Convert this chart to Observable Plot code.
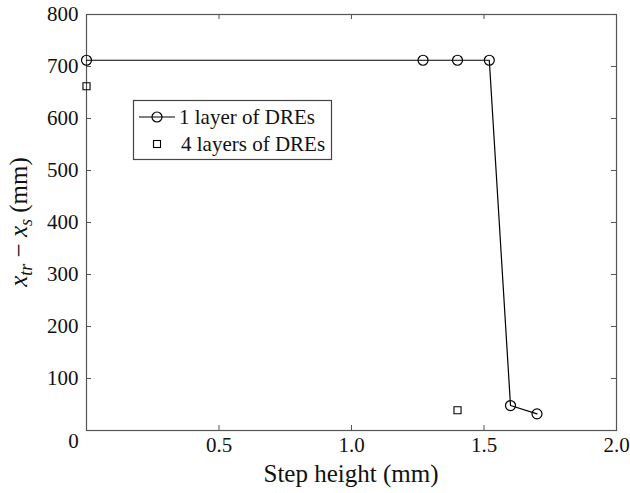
<!DOCTYPE html>
<html>
<head>
<meta charset="utf-8">
<script src="https://cdn.jsdelivr.net/npm/d3@7"></script>
<script src="https://cdn.jsdelivr.net/npm/@observablehq/plot@0.6"></script>
<style>
  body { margin: 0; background: #fff; }
  #chart svg, #chart svg text { font-family: "Liberation Serif", "Times New Roman", "DejaVu Serif", serif; }
</style>
</head>
<body>
<div id="chart"></div>
<script>
// Transition distance vs. step height, for one and four layers of DREs
const stepHeight1 = [0.0, 1.27, 1.40, 1.52, 1.60, 1.70];
const distance1   = [712, 712, 712, 712, 48, 32];
const stepHeight4 = [0.0, 1.40];
const distance4   = [662, 39];

const xTicks = [0, 0.5, 1.0, 1.5, 2.0];
const yTicks = [100, 200, 300, 400, 500, 600, 700, 800];

const series1 = stepHeight1.map((x, i) => ({x, y: distance1[i]}));
const series4 = stepHeight4.map((x, i) => ({x, y: distance4[i]}));

const W = 630, H = 493;
const M = {left: 86, right: 14, top: 14, bottom: 63};
const tickLen = 5;
const innerW = W - M.left - M.right;
const innerH = H - M.top - M.bottom;

const axisColor = "#555";
const font = '"Liberation Serif", "Times New Roman", "DejaVu Serif", serif';
const fmtX = d => d === 0 ? "0" : d3.format(".1f")(d);

const plot = Plot.plot({
  width: W,
  height: H,
  marginLeft: M.left,
  marginRight: M.right,
  marginTop: M.top,
  marginBottom: M.bottom,
  style: {fontFamily: font, background: "#fff"},
  x: {domain: [0, 2]},
  y: {domain: [0, 800]},
  marks: [
    Plot.frame({stroke: axisColor, strokeWidth: 1.2}),
    // inward ticks on all four sides
    Plot.tickX(xTicks, {x: d => d, insetTop: innerH - tickLen, stroke: axisColor}),
    Plot.tickX(xTicks, {x: d => d, insetBottom: innerH - tickLen, stroke: axisColor}),
    Plot.tickY(yTicks, {y: d => d, insetRight: innerW - tickLen, stroke: axisColor}),
    Plot.tickY(yTicks, {y: d => d, insetLeft: innerW - tickLen, stroke: axisColor}),
    // tick labels
    Plot.axisX(xTicks.filter(d => d !== 0), {anchor: "bottom", tickSize: 0, tickPadding: 7, tickFormat: fmtX, fontSize: 21, fill: "#111", label: null}),
    Plot.text([0], {x: d => d, frameAnchor: "bottom", dy: 17, dx: -13, text: d => fmtX(d), fontSize: 21, fill: "#111"}),
    Plot.axisY(yTicks, {anchor: "left", tickSize: 0, tickPadding: 8, fontSize: 21, fill: "#111", label: null}),
    // data
    Plot.line(series1, {x: "x", y: "y", stroke: "#000", strokeWidth: 1.2}),
    Plot.dot(series1, {x: "x", y: "y", r: 5, stroke: "#000", strokeWidth: 1.2, fill: "none"}),
    Plot.dot(series4, {x: "x", y: "y", r: 4, symbol: "square", stroke: "#000", strokeWidth: 1.1, fill: "none"})
  ]
});

const svg = d3.select(plot);

// x axis title
svg.append("text")
  .attr("x", M.left + innerW / 2).attr("y", 482)
  .attr("text-anchor", "middle")
  .style("font-family", font).attr("font-size", 25).attr("fill", "#111")
  .text("Step height (mm)");

// y axis title with subscripts
const yl = svg.append("text")
  .attr("transform", `translate(27,${M.top + innerH / 2}) rotate(-90)`)
  .attr("text-anchor", "middle")
  .style("font-family", font).attr("font-size", 25).attr("fill", "#111");
yl.append("tspan").attr("font-style", "italic").text("x");
yl.append("tspan").attr("font-style", "italic").attr("font-size", 18).attr("dy", 5).text("tr");
yl.append("tspan").attr("dy", -5).text(" \u2212 ");
yl.append("tspan").attr("font-style", "italic").text("x");
yl.append("tspan").attr("font-style", "italic").attr("font-size", 18).attr("dy", 5).text("s");
yl.append("tspan").attr("dy", -5).text(" (mm)");

// legend
const lg = svg.append("g").style("font-family", font).attr("font-size", 21).attr("fill", "#111");
lg.append("rect").attr("x", 133.5).attr("y", 100.5).attr("width", 198).attr("height", 59)
  .attr("fill", "#fff").attr("stroke", "#444").attr("stroke-width", 1.2);
lg.append("line").attr("x1", 139).attr("x2", 175).attr("y1", 117).attr("y2", 117)
  .attr("stroke", "#000").attr("stroke-width", 1.2);
lg.append("circle").attr("cx", 157).attr("cy", 117).attr("r", 5)
  .attr("fill", "none").attr("stroke", "#000").attr("stroke-width", 1.2);
lg.append("text").attr("x", 179).attr("y", 117).attr("dy", "0.34em")
  .attr("text-anchor", "start").text("1 layer of DREs");
lg.append("rect").attr("x", 153.5).attr("y", 140.5).attr("width", 7).attr("height", 7)
  .attr("fill", "none").attr("stroke", "#000").attr("stroke-width", 1.1);
lg.append("text").attr("x", 181).attr("y", 144).attr("dy", "0.34em")
  .attr("text-anchor", "start").text("4 layers of DREs");

document.getElementById("chart").appendChild(plot);
</script>
</body>
</html>
